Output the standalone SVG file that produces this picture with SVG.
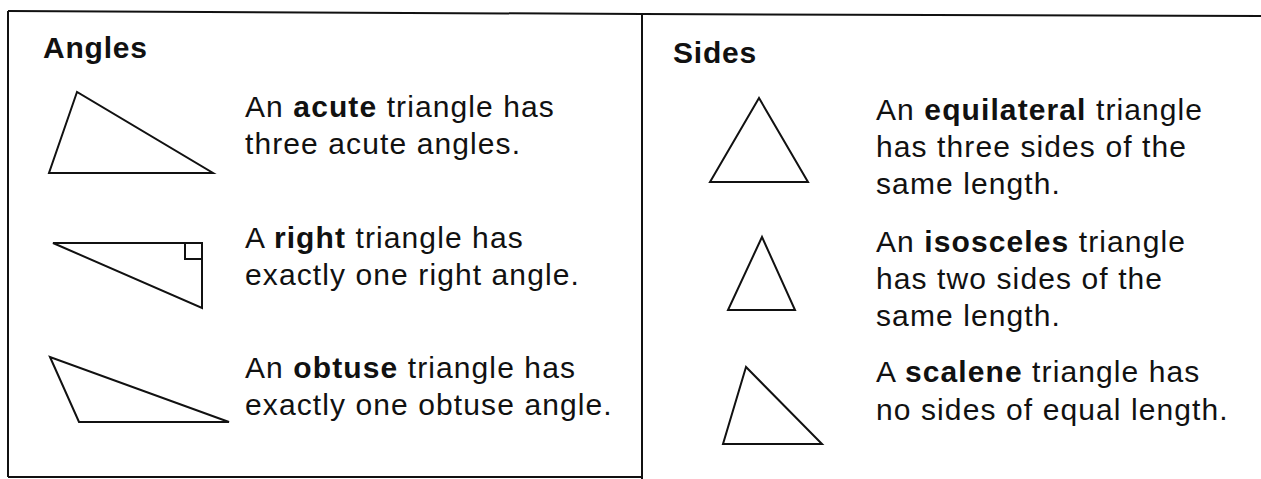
<svg xmlns="http://www.w3.org/2000/svg" width="1261" height="479" viewBox="0 0 1261 479">
<style>
.bg{fill:#ffffff}
.frame{fill:none;stroke:#111;stroke-width:2}
.tri{fill:none;stroke:#111;stroke-width:2;stroke-linejoin:miter}
.title{font-family:"Liberation Sans",Arial,sans-serif;font-size:30px;font-weight:bold;fill:#111;letter-spacing:0.8px}
.body{font-family:"Liberation Sans",Arial,sans-serif;font-size:30px;fill:#111;letter-spacing:1.1px}
.b{font-weight:bold}
</style>
<rect class="bg" x="0" y="0" width="1261" height="479"/>
<g id="frame">
<polyline class="frame" points="8,11 642,14 1261,16"/>
<line class="frame" x1="8" y1="11" x2="8" y2="477"/>
<line class="frame" x1="8" y1="477" x2="642" y2="477"/>
<line class="frame" x1="642" y1="14" x2="642" y2="479"/>
</g>
<g id="angles-title"><text class="title" x="43" y="58">Angles</text></g>
<g id="sides-title"><text class="title" x="673" y="63">Sides</text></g>
<g id="acute">
<polygon class="tri" points="77,92 49,173 213,173"/>
<text class="body" x="245" y="117">An <tspan class="b">acute</tspan> triangle has</text>
<text class="body" x="245" y="154">three acute angles.</text>
</g>
<g id="right">
<polygon class="tri" points="53,243 202,243 202,308"/>
<path class="tri" d="M185,243 V259 H202"/>
<text class="body" x="245" y="248">A <tspan class="b">right</tspan> triangle has</text>
<text class="body" x="245" y="285">exactly one right angle.</text>
</g>
<g id="obtuse">
<polygon class="tri" points="50,357 79,422 229,422"/>
<text class="body" x="245" y="378">An <tspan class="b">obtuse</tspan> triangle has</text>
<text class="body" x="245" y="415">exactly one obtuse angle.</text>
</g>
<g id="equilateral">
<polygon class="tri" points="759,98 710,182 808,182"/>
<text class="body" x="876" y="120">An <tspan class="b">equilateral</tspan> triangle</text>
<text class="body" x="876" y="157">has three sides of the</text>
<text class="body" x="876" y="194">same length.</text>
</g>
<g id="isosceles">
<polygon class="tri" points="762,237 728,310 795,310"/>
<text class="body" x="876" y="252">An <tspan class="b">isosceles</tspan> triangle</text>
<text class="body" x="876" y="289">has two sides of the</text>
<text class="body" x="876" y="326">same length.</text>
</g>
<g id="scalene">
<polygon class="tri" points="746,367 723,444 822,444"/>
<text class="body" x="876" y="382">A <tspan class="b">scalene</tspan> triangle has</text>
<text class="body" x="876" y="420">no sides of equal length.</text>
</g>
<g id="connectors"/>
</svg>
